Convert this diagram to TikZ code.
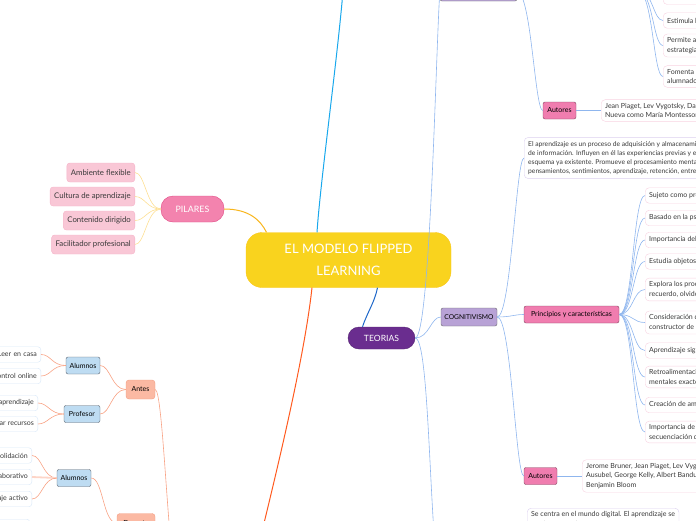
\documentclass[tikz,border=0pt]{standalone}
\usepackage{fontspec}
\setmainfont{Lato}
\usetikzlibrary{positioning}

\definecolor{amarillo}{HTML}{F9D31E}
\definecolor{ambar}{HTML}{F8B51C}
\definecolor{rosapilar}{HTML}{F383AE}
\definecolor{rosaborde}{HTML}{E14B85}
\definecolor{rosaclaro}{HTML}{F9C7D6}
\definecolor{rosaclaroborde}{HTML}{F5B3C8}
\definecolor{amarilloclaro}{HTML}{FDDF93}
\definecolor{morado}{HTML}{6A2D8F}
\definecolor{azul}{HTML}{1F68C9}
\definecolor{cian}{HTML}{19A8EC}
\definecolor{azulclaro}{HTML}{8FB6EE}
\definecolor{lavanda}{HTML}{B8A2D6}
\definecolor{gris}{HTML}{6B6B6B}
\definecolor{rosarama}{HTML}{F07DAF}
\definecolor{malva}{HTML}{C47EC2}
\definecolor{rosahoja}{HTML}{F8D3E1}
\definecolor{lilahoja}{HTML}{DCD0F0}
\definecolor{salmon}{HTML}{FBB9A3}
\definecolor{salmonborde}{HTML}{F39C82}
\definecolor{salmonlinea}{HTML}{F8A284}
\definecolor{naranja}{HTML}{FF5A1F}
\definecolor{celeste}{HTML}{BEDCF2}
\definecolor{grisazul}{HTML}{5A6470}
\definecolor{celesteborde}{HTML}{D8E8F8}
\definecolor{texto}{HTML}{3A3A3A}

\newcommand\chico{\fontsize{7}{9.5}\selectfont}
\newcommand\menudo{\fontsize{6.7}{9}\selectfont}

\tikzset{
  titulo/.style={fill=amarillo,draw=amarillo!85!orange,rounded corners=16pt,text=white,
    font=\fontsize{13}{22}\selectfont,align=center,minimum width=205pt,minimum height=55pt},
  pilar/.style={fill=rosapilar,draw=rosaborde,rounded corners=12pt,text=white,
    font=\fontsize{8.8}{10}\selectfont,minimum width=63pt,minimum height=26pt},
  pilarhoja/.style={fill=rosaclaro,draw=rosaclaroborde,rounded corners=3pt,text=texto,
    font=\fontsize{7.8}{9}\selectfont,minimum height=19pt,anchor=east,inner xsep=4pt},
  teoria/.style={fill=morado,draw=morado!80!black,rounded corners=11pt,text=white,
    font=\fontsize{8.6}{10}\selectfont,minimum width=67pt,minimum height=22pt},
  escuela/.style={fill=lavanda,draw=gris,rounded corners=2pt,font=\fontsize{6.7}{8}\selectfont,
    minimum height=18pt,inner xsep=2pt},
  rama/.style={fill=rosarama,draw=rosarama!55!black,rounded corners=2pt,font=\chico,
    minimum height=17pt,inner xsep=4pt},
  hoja/.style={draw=rosahoja,fill=white,rounded corners=4pt,font=\chico,text=texto,
    anchor=west,align=left,inner xsep=4pt,inner ysep=3.5pt,minimum height=15.5pt},
  nota/.style={hoja,draw=lilahoja,font=\menudo},
  fase/.style={fill=salmon,draw=salmonborde,rounded corners=3pt,font=\chico,
    minimum height=19pt,minimum width=29pt},
  actor/.style={fill=celeste,draw=grisazul,rounded corners=2pt,font=\chico,
    minimum height=17pt,minimum width=34pt,inner xsep=2pt},
  tarea/.style={draw=celesteborde,fill=white,rounded corners=3pt,font=\chico,text=texto,
    anchor=east,align=right,text width=80pt,inner xsep=4pt,minimum height=15.5pt},
  lazo/.style={draw=azulclaro,line width=0.6pt},
  lazopilar/.style={draw=amarilloclaro,line width=0.6pt},
  lazofase/.style={draw=salmonlinea,line width=0.6pt}
}

\begin{document}
\begin{tikzpicture}[x=1pt,y=-1pt]
\useasboundingbox (0,0) rectangle (696,520);
\clip (0,0) rectangle (696,520);

% centro
\node[titulo] (centro) at (348.5,260) {EL MODELO FLIPPED\\LEARNING};
\coordinate (arriba) at (345,-40);
\coordinate (fases) at (245,600);
\coordinate (conectivismo) at (441,600);

% pilares
\node[pilar] (pilares) at (192.5,209) {PILARES};
\node[pilarhoja] (flexible) at (135,172.5) {Ambiente flexible};
\node[pilarhoja] (cultura) at (135,196.5) {Cultura de aprendizaje};
\node[pilarhoja] (contenido) at (135,220.5) {Contenido dirigido};
\node[pilarhoja] (facilitador) at (135,244.5) {Facilitador profesional};

% teorias
\node[teoria] (teorias) at (381.5,338) {TEORIAS};
\node[escuela,minimum width=77pt] (constructivismo) at (478.5,-8) {CONSTRUCTIVISMO};
\node[rama,fill=malva,draw=malva!55!black,minimum width=94pt,minimum height=18pt] (principiosa) at (590,-10) {Principios};
\node[hoja] (modelo) at (663,-7) {El alumno es el centro del\\modelo de aprendizaje};
\node[hoja] (estimula) at (663,20.5) {Estimula la curiosidad};
\node[hoja] (permite) at (663,45.5) {Permite al alumno crear\\estrategias propias};
\node[hoja] (fomenta) at (663,76.5) {Fomenta el trabajo del\\alumnado};
\node[rama,minimum width=33pt] (autoresa) at (559.5,110.5) {Autores};
\node[hoja] (autoresatexto) at (601,110.5) {Jean Piaget, Lev Vygotsky, David Perkins y la Escuela\\Nueva como María Montessori};

\node[escuela,minimum width=56pt] (cognitivismo) at (469,317) {COGNITIVISMO};
\node[nota,inner ysep=4pt] (definicion) at (524,158) {El aprendizaje es un proceso de adquisición y almacenamiento\\de información. Influyen en él las experiencias previas y el\\esquema ya existente. Promueve el procesamiento mental de\\pensamientos, sentimientos, aprendizaje, retención, entre otros};
\node[rama,minimum width=95pt] (principios) at (571.5,314.5) {Principios y características};
\node[hoja] (sujeto) at (645,195.5) {Sujeto como procesador activo};
\node[hoja] (basado) at (645,218) {Basado en la psicología cognitiva};
\node[hoja] (previo) at (645,240) {Importancia del conocimiento previo};
\node[hoja] (objetos) at (645,261.5) {Estudia objetos mentales};
\node[hoja] (explora) at (645,289.5) {Explora los procesos de percepción,\\recuerdo, olvido y pensamiento};
\node[hoja] (constructor) at (645,322.5) {Consideración del alumno como\\constructor de su aprendizaje};
\node[hoja] (significativo) at (645,350.5) {Aprendizaje significativo};
\node[hoja] (retro) at (645,377) {Retroalimentación para formar esquemas\\mentales exactos};
\node[hoja] (ambientes) at (645,405) {Creación de ambientes de aprendizaje};
\node[hoja] (secuencia) at (645,432) {Importancia de la organización y\\secuenciación de contenidos};
\node[rama,minimum width=33pt] (autoresb) at (540.5,476) {Autores};
\node[hoja] (autoresbtexto) at (582,476) {Jerome Bruner, Jean Piaget, Lev Vygotsky, David\\Ausubel, George Kelly, Albert Bandura y\\Benjamin Bloom};
\node[nota,anchor=north west,font=\chico] (digital) at (527,508) {Se centra en el mundo digital. El aprendizaje se\\produce en redes};

% fases
\node[fase] (antes) at (140.5,389.5) {Antes};
\node[fase,minimum width=38pt] (durante) at (136,523) {Durante};
\node[actor] (alumnosa) at (83,365.5) {Alumnos};
\node[actor,minimum width=36pt] (profesor) at (82,414) {Profesor};
\node[actor] (alumnosb) at (74,478) {Alumnos};
\node[tarea] (casa) at (41,354.5) {Leer en casa};
\node[tarea] (online) at (41,376) {Test de control online};
\node[tarea] (guia) at (38,403) {Guiar el aprendizaje};
\node[tarea] (recursos) at (38,424) {Preparar recursos};
\node[tarea] (consolidacion) at (32,455.5) {Consolidación};
\node[tarea] (colaborativo) at (32,477) {Trabajo colaborativo};
\node[tarea] (activo) at (32,499) {Aprendizaje activo};
\node[tarea] (dudas) at (30,527) {Resolver dudas};

% conexiones del centro
\draw[cian,line width=1pt] ([xshift=-31.5pt]centro.north) .. controls +(4,-60) and +(-2,60) .. (arriba);
\draw[ambar,line width=1pt] (pilares.east) .. controls +(25,0) and +(-6,-12) .. ([xshift=-82pt]centro.north);
\draw[azul,line width=1pt] ([xshift=29pt]centro.south) .. controls +(-3,15) and +(5,-15) .. ([xshift=-19pt]teorias.north);
\draw[naranja,line width=1pt] ([xshift=-36.5pt]centro.south) .. controls +(-8,73) and +(30,-120) .. (fases);

% pilares
\draw[lazopilar] (pilares.west) .. controls +(-14,0) and +(10,0) .. (flexible.east);
\draw[lazopilar] (pilares.west) .. controls +(-14,0) and +(10,0) .. (cultura.east);
\draw[lazopilar] (pilares.west) .. controls +(-14,0) and +(10,0) .. (contenido.east);
\draw[lazopilar] (pilares.west) .. controls +(-14,0) and +(10,0) .. (facilitador.east);

% teorias
\draw[lazo] (teorias.east) .. controls +(15,0) and +(-4,60) .. (constructivismo.west);
\draw[lazo] (teorias.east) .. controls +(15,0) and +(-12,-60) .. (conectivismo);
\draw[lazo] (teorias.east) .. controls +(14,0) and +(-10,0) .. (cognitivismo.west);
\draw[lazo] (constructivismo.east) .. controls +(14,0) and +(-8,0) .. (autoresa.west);
\draw[lazo] (autoresa.east) -- (autoresatexto.west);
\draw[lazo] (principiosa.east) .. controls +(16,0) and +(-10,0) .. (modelo.west);
\draw[lazo] (principiosa.east) .. controls +(16,0) and +(-10,0) .. (estimula.west);
\draw[lazo] (principiosa.east) .. controls +(16,0) and +(-10,0) .. (permite.west);
\draw[lazo] (principiosa.east) .. controls +(16,0) and +(-10,0) .. (fomenta.west);

\draw[lazo] (cognitivismo.east) .. controls +(14,0) and +(-8,0) .. (definicion.west);
\draw[lazo] (cognitivismo.east) .. controls +(14,0) and +(-10,0) .. (principios.west);
\draw[lazo] (cognitivismo.east) .. controls +(14,0) and +(-8,0) .. (autoresb.west);
\draw[lazo] (autoresb.east) -- (autoresbtexto.west);
\draw[lazo] (principios.east) .. controls +(14,0) and +(-12,0) .. (sujeto.west);
\draw[lazo] (principios.east) .. controls +(14,0) and +(-12,0) .. (basado.west);
\draw[lazo] (principios.east) .. controls +(14,0) and +(-12,0) .. (previo.west);
\draw[lazo] (principios.east) .. controls +(14,0) and +(-12,0) .. (objetos.west);
\draw[lazo] (principios.east) .. controls +(14,0) and +(-12,0) .. (explora.west);
\draw[lazo] (principios.east) .. controls +(14,0) and +(-12,0) .. (constructor.west);
\draw[lazo] (principios.east) .. controls +(14,0) and +(-12,0) .. (significativo.west);
\draw[lazo] (principios.east) .. controls +(14,0) and +(-12,0) .. (retro.west);
\draw[lazo] (principios.east) .. controls +(14,0) and +(-12,0) .. (ambientes.west);
\draw[lazo] (principios.east) .. controls +(14,0) and +(-12,0) .. (secuencia.west);

% fases
\draw[lazofase] (antes.east) .. controls +(8,0) and +(-10,-40) .. ([xshift=-67pt]fases);
\draw[lazofase] (durante.east) .. controls +(8,0) and +(-10,-30) .. ([xshift=-67pt]fases);
\draw[lazofase] (antes.west) .. controls +(-14,0) and +(10,0) .. (alumnosa.east);
\draw[lazofase] (antes.west) .. controls +(-14,0) and +(10,0) .. (profesor.east);
\draw[lazofase] (durante.west) .. controls +(-14,0) and +(12,0) .. (alumnosb.east);
\draw[lazofase] (alumnosa.west) .. controls +(-14,0) and +(10,0) .. (casa.east);
\draw[lazofase] (alumnosa.west) .. controls +(-14,0) and +(10,0) .. (online.east);
\draw[lazofase] (profesor.west) .. controls +(-14,0) and +(10,0) .. (guia.east);
\draw[lazofase] (profesor.west) .. controls +(-14,0) and +(10,0) .. (recursos.east);
\draw[lazofase] (alumnosb.west) .. controls +(-14,0) and +(10,0) .. (consolidacion.east);
\draw[salmon!60,line width=1.8pt] (alumnosb.west) -- (colaborativo.east);
\draw[lazofase] (alumnosb.west) .. controls +(-14,0) and +(10,0) .. (activo.east);
\end{tikzpicture}
\end{document}
